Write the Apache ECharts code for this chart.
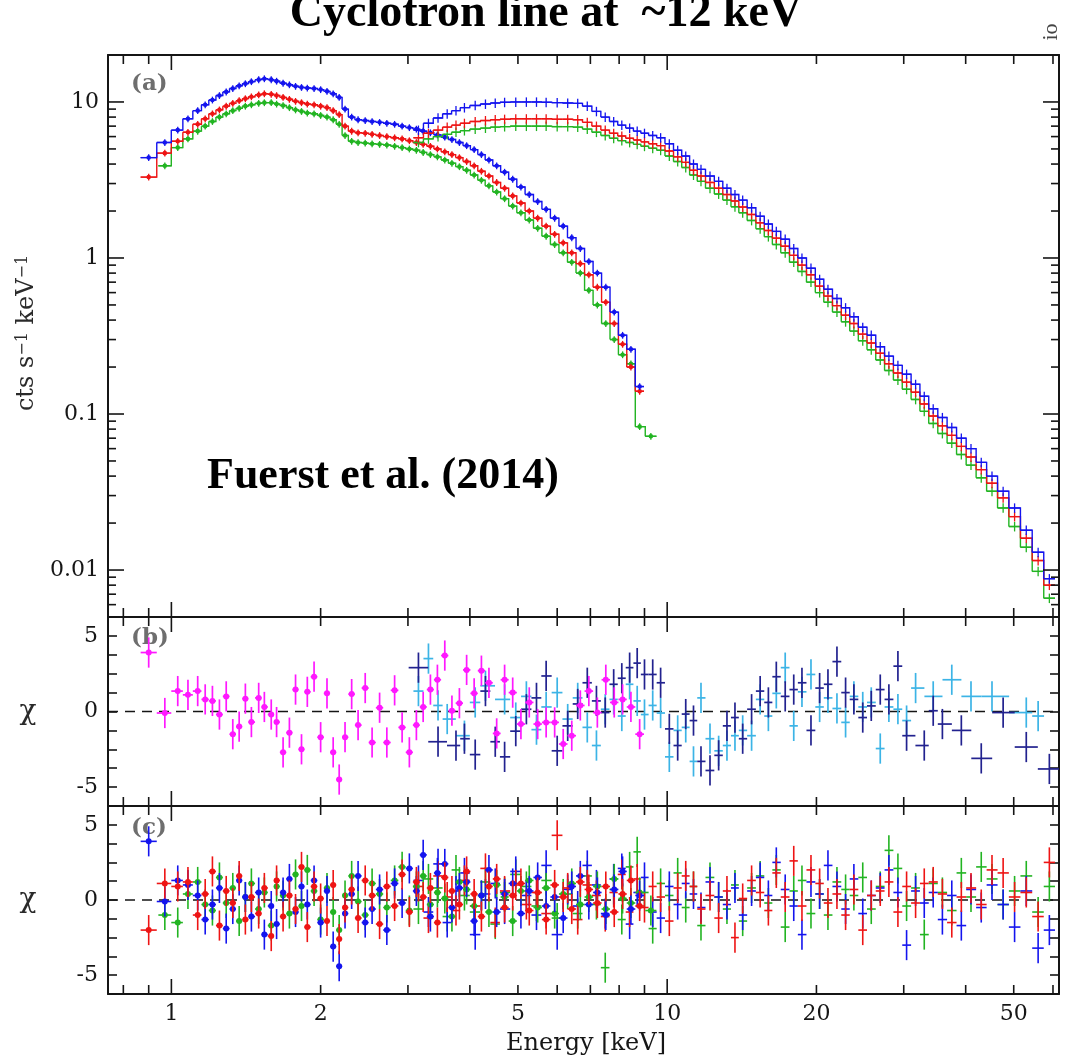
<!DOCTYPE html>
<html><head><meta charset="utf-8">
<script src="https://cdn.jsdelivr.net/npm/echarts@6/dist/echarts.min.js"></script>
<style>html,body{margin:0;padding:0;background:#fff}#c{width:1067px;height:1063px}</style>
</head><body><div id="c"></div>
<script>
// ================= DATA =================
// Low-energy instrument (panel a, left spectrum): bin centre energies in keV
const xisEnergy = [0.90,0.97,1.03,1.08,1.13,1.17,1.21,1.25,1.29,1.33,1.37,1.41,1.45,1.50,1.54,1.59,1.63,1.68,1.73,1.78,1.83,1.88,1.94,2.00,2.06,2.12,2.18,2.24,2.31,2.38,2.46,2.54,2.63,2.72,2.82,2.92,3.02,3.12,3.22,3.33,3.44,3.56,3.68,3.81,3.94,4.08,4.22,4.37,4.53,4.70,4.88,5.07,5.27,5.48,5.70,5.93,6.17,6.42,6.68,6.95,7.23,7.52,7.82,8.13,8.45,8.80,9.27];
const xisBlue = [4.4,5.5,6.6,7.8,8.8,9.6,10.3,11.0,11.6,12.2,12.7,13.1,13.5,13.9,14.1,13.9,13.6,13.2,12.9,12.6,12.4,12.3,12.2,12.0,11.7,11.3,10.7,9.0,8.0,7.7,7.6,7.5,7.4,7.3,7.2,7.0,6.85,6.7,6.5,6.35,6.15,5.95,5.75,5.5,5.25,4.95,4.6,4.25,3.9,3.55,3.2,2.85,2.55,2.3,2.05,1.8,1.6,1.35,1.15,0.95,0.8,0.65,0.45,0.32,0.26,0.15,null];
const xisRed = [3.3,4.7,5.6,6.4,7.2,7.8,8.4,8.9,9.4,9.8,10.2,10.5,10.8,11.1,11.3,11.2,11.0,10.7,10.4,10.1,9.9,9.7,9.6,9.4,9.2,8.8,8.3,7.0,6.5,6.35,6.3,6.2,6.1,6.0,5.9,5.8,5.65,5.5,5.35,5.2,5.0,4.8,4.6,4.4,4.15,3.9,3.6,3.35,3.05,2.8,2.5,2.25,2.0,1.8,1.6,1.42,1.25,1.08,0.92,0.78,0.65,0.52,0.38,0.28,0.2,0.14,null];
const xisGreen = [null,3.9,5.1,5.8,6.5,7.0,7.5,8.0,8.4,8.8,9.1,9.4,9.6,9.8,9.9,9.9,9.7,9.5,9.2,8.9,8.7,8.5,8.4,8.2,8.0,7.7,7.2,6.1,5.6,5.5,5.45,5.4,5.35,5.3,5.2,5.1,5.0,4.9,4.75,4.6,4.45,4.25,4.05,3.85,3.65,3.4,3.15,2.9,2.65,2.4,2.15,1.95,1.75,1.55,1.38,1.22,1.08,0.94,0.8,0.62,0.5,0.38,0.3,0.24,0.21,0.083,0.072];

// High-energy instrument (panel a, right spectrum)
const nuEnergy = [3.15,3.3,3.45,3.6,3.75,3.9,4.1,4.3,4.5,4.7,4.95,5.2,5.45,5.7,6.0,6.3,6.6,6.9,7.2,7.5,7.8,8.1,8.4,8.7,9.0,9.35,9.7,10.1,10.5,10.9,11.3,11.7,12.2,12.7,13.2,13.7,14.2,14.8,15.4,16.0,16.6,17.3,18.0,18.7,19.5,20.3,21.1,22.0,22.9,23.8,24.8,25.8,26.9,28.0,29.2,30.4,31.7,33.0,34.4,35.9,37.5,39.2,41.0,43.0,45.2,47.6,50.2,53.0,56.0,59.0];
const nuBlue = [6.6,7.3,7.9,8.4,8.8,9.2,9.5,9.7,9.85,9.95,10.0,10.0,10.0,9.95,9.9,9.85,9.8,9.4,8.7,8.0,7.5,7.1,6.8,6.5,6.3,6.1,5.9,5.4,4.9,4.5,4.0,3.7,3.35,3.1,2.8,2.55,2.35,2.1,1.85,1.65,1.48,1.32,1.15,1.0,0.86,0.73,0.63,0.55,0.48,0.42,0.36,0.32,0.27,0.235,0.205,0.18,0.155,0.13,0.108,0.095,0.082,0.07,0.06,0.049,0.04,0.032,0.025,0.018,0.013,0.0088];
const nuRed = [5.9,6.3,6.6,6.9,7.1,7.3,7.5,7.6,7.7,7.75,7.8,7.8,7.8,7.8,7.75,7.75,7.7,7.4,7.0,6.6,6.3,6.05,5.85,5.7,5.55,5.4,5.25,4.85,4.45,4.1,3.65,3.35,3.05,2.8,2.55,2.32,2.12,1.9,1.68,1.5,1.34,1.19,1.04,0.9,0.78,0.66,0.57,0.495,0.43,0.38,0.325,0.285,0.245,0.21,0.183,0.16,0.138,0.116,0.097,0.084,0.073,0.062,0.053,0.044,0.036,0.029,0.022,0.016,0.0115,0.008];
const nuGreen = [5.5,5.8,6.0,6.2,6.4,6.55,6.7,6.8,6.9,6.95,7.0,7.0,7.0,7.0,6.95,6.95,6.9,6.7,6.4,6.1,5.85,5.65,5.5,5.35,5.2,5.05,4.9,4.5,4.15,3.8,3.4,3.1,2.8,2.57,2.35,2.13,1.95,1.74,1.54,1.37,1.22,1.08,0.94,0.82,0.7,0.6,0.52,0.45,0.39,0.34,0.295,0.258,0.222,0.19,0.165,0.144,0.124,0.104,0.087,0.075,0.065,0.055,0.047,0.039,0.032,0.025,0.019,0.014,0.0098,0.0066];

// Panel (b) residuals (chi)
const resBMagenta = [3.9,-0.1,1.35,1.1,1.35,0.8,0.7,-0.2,1.0,-1.5, -1.0,0.85,-0.7,0.9,0.3,-0.2,-0.7,-2.7,-1.4,1.45, -2.5,1.3,2.3,-1.7,1.2,-2.7,-4.5,-1.7,1.15,-0.9, 1.55,-2.05,0.25,-2.05,1.4,-1.05,-2.7,-0.9,0.3,1.45, 2.1,3.7,0.05,0.55,2.75,1.2,2.7,1.9,-1.45,2.1, 1.25,-0.83,0.6,-0.83,-0.72,-0.72,-2.15,-1.6,0.4,1.35, -0.07,2.1,0.6,0.8,0.3,-1.5,null];
const resBNavy = [2.9,null,-2.0,null,-2.25,-1.8,-2.85,1.35,-2.0,-3.0, -1.3,0.15,0.9,2.35,-2.6,-0.95,0.5,1.9,0.7,-0.07, 1.8,2.2,2.9,3.2,2.45,2.45,1.9,-1.15,-2.25,-0.17, -0.6,-3.3,-3.9,-2.9,-0.95,-0.4,-1.8,0.15,1.35,0.6, 2.3,1.0,1.45,1.9,-1.25,1.55,1.8,3.3,1.25,0.8, -0.4,0.37,1.45,0.8,3.0,-1.6,null,-2.25,0.05,-0.83, null,-1.25,null,-3.1,null,-0.07,null,-2.35,null,-3.8];
const resBCyan = [1.35,3.5,0.4,-0.5,null,-1.6,0.6,1.7,null,0.8, -0.4,1.0,-1.2,0.3,1.25,-0.5,0.9,-1.05,-2.25,0.15, 0.8,-0.3,1.8,0.7,-0.2,0.4,-0.1,-3.0,-1.25,-1.05, -3.3,0.9,-1.8,-2.6,-2.25,-1.6,-1.25,-1.6,0.8,-0.3, 1.2,2.9,-0.95,1.3,2.45,0.3,0.9,0.2,-0.72,1.0, 0.3,0.6,-2.45,0.3,0.15,-0.6,1.55,null,1.0,null, 2.1,null,1.0,null,1.0,null,null,-0.07,-0.3,null];

// Panel (c) residuals (chi)
const resCXisBlue = [3.9,-0.1,1.3,1.0,0.3,-1.3,-0.3,0.8,-1.9,-0.6, 1.3,0.2,-1.1,0.5,-2.3,-0.4,-1.6,0.5,1.4,-0.8, 0.9,-0.3,1.3,-1.5,0.6,-3.1,-4.4,-0.9,0.4,1.6, -1.5,-0.6,0.7,-2.0,1.1,-0.2,2.1,0.6,3.0,-1.1, 1.8,2.4,-0.5,0.8,1.2,-1.4,0.3,2.0,-0.8,0.4, 1.1,-0.9,0.6,1.5,-0.4,0.2,-1.2,0.9,1.6,-0.3, 0.5,-1.0,0.7,1.9,-0.6,0.3,null];
const resCXisRed = [-2.0,1.1,0.9,1.2,-1.0,0.4,1.9,-1.7,0.6,-0.2, 1.6,-1.3,0.2,-0.9,0.8,-2.4,1.3,-1.1,0.3,-0.6, 2.2,-1.8,0.9,0.1,-1.4,1.0,-2.6,-0.5,0.7,-1.2, 1.3,0.3,-1.6,0.9,-0.4,1.7,-0.8,1.2,0.2,0.8, -1.5,1.5,0.6,-0.3,1.9,0.4,-1.1,0.9,1.4,-0.5, 0.3,1.1,-0.7,0.5,-1.3,1.0,0.2,-0.6,1.2,0.7, -0.2,0.9,-0.8,0.4,1.3,-0.4,null];
const resCXisGreen = [null,-1.0,-1.5,0.4,1.2,-0.3,-0.7,1.5,-0.2,0.8, -1.4,0.2,1.1,-0.6,0.5,-1.7,0.9,0.3,-0.9,1.7, -0.4,2.0,0.6,-1.3,0.8,-0.8,-2.0,0.3,1.6,-0.1, -1.0,1.1,0.4,-0.5,1.3,2.2,-0.7,0.9,1.6,-0.3, 0.5,0.1,-1.1,1.2,0.7,-0.4,0.3,-0.8,1.0,0.2, -1.4,0.6,1.3,-0.5,0.8,-0.9,0.4,1.1,-0.3,0.2, 0.9,-0.6,1.4,0.1,-0.2,0.5,-0.7];
const resCNuBlue = [1.3,-0.8,2.4,-1.5,0.6,1.8,-2.3,0.4,1.1,-0.6, 1.9,0.3,-1.0,2.3,-2.3,0.7,-0.4,2.3,1.0,-0.9, 1.4,2.1,-1.6,0.5,1.5,-0.8,-1.2,0.9,-0.3,1.1, 0.4,-0.5,1.2,0.2,-0.3,0.8,-1.0,0.6,1.5,0.3, 2.5,0.7,-0.4,-2.3,1.2,0.4,2.3,0.9,-0.6,1.4, -0.9,0.3,0.8,2.0,0.5,-3.0,0.6,-0.2,0.5,-1.3, 0.3,-1.7,0.7,-0.5,1.0,-0.3,-1.8,0.6,-3.2,-2.0];
const resCNuRed = [0.9,-1.2,1.6,0.2,-0.7,1.3,-0.4,2.1,-1.5,0.6, 1.0,-0.3,0.5,-0.9,4.3,0.8,-1.3,1.0,0.3,-1.1, 0.5,1.7,-0.8,1.4,-0.5,0.9,0.2,-1.4,0.8,1.6, 0.9,-0.6,0.3,-1.2,0.6,-2.5,0.1,1.3,0.5,-0.7, 1.8,0.2,2.6,-0.4,2.0,1.1,-0.2,0.4,-1.0,0.7, -2.0,0.3,0.6,1.2,-0.8,0.9,-0.2,1.1,1.2,0.4, -1.5,0.2,0.8,-0.3,2.0,1.8,0.2,0.5,-1.1,2.5];
const resCNuGreen = [-0.6,1.4,0.8,-1.1,2.0,0.3,-0.8,1.2,-1.6,0.5, 1.7,0.9,-0.4,1.3,-1.2,0.4,-0.9,1.6,-0.3,-4.5, 0.7,-1.3,2.2,3.2,0.5,-1.9,1.1,0.3,1.8,-0.5, 0.9,-1.7,1.5,0.2,-0.6,1.0,-1.4,0.8,1.6,-0.2, 2.0,-1.8,0.6,1.3,-0.9,0.4,-1.0,1.2,0.7,0.3, 1.5,-0.6,0.9,3.3,2.1,-0.4,0.8,-2.3,1.1,0.5, -0.7,1.8,0.2,2.2,1.4,-0.3,0.6,1.6,-0.8,0.9];

// Axis ticks and labels
const xLabelValues = [1, 2, 5, 10, 20, 50];
const xMajorTicks = [1, 10];
const xMinorTicks = [0.8, 0.9, 2, 3, 4, 5, 6, 7, 8, 9, 20, 30, 40, 50, 60];
const yLabelValues = [0.01, 0.1, 1, 10];
const yMajorTicks = [0.01, 0.1, 1, 10];
const yMinorTicks = [0.006,0.007,0.008,0.009, 0.02,0.03,0.04,0.05,0.06,0.07,0.08,0.09, 0.2,0.3,0.4,0.5,0.6,0.7,0.8,0.9, 2,3,4,5,6,7,8,9];
const chiLabelValues = [-5, 0, 5];

// ================= BUILD =================
const X_MIN = 0.745, X_MAX = 61.7, Y_MIN = 0.005, Y_MAX = 20, CHI_MIN = -6.25, CHI_MAX = 6.25;
const C_BLUE = '#1414ee', C_RED = '#ee1414', C_GREEN = '#22b422', C_MAG = '#ff18ff', C_NAVY = '#22228f', C_CYAN = '#3cb4e6';
const INK = '#151515', LABEL = '#161616';
const TICK_FONT = '22px "DejaVu Serif"';

function bins(energies, values) {
  const pts = [];
  energies.forEach((e, i) => { const v = values[i]; if (v !== null && v !== undefined) pts.push([e, v]); });
  const n = pts.length, out = [];
  for (let k = 0; k < n; k++) {
    const e = pts[k][0];
    const lo = k > 0 ? Math.sqrt(pts[k-1][0] * e) : e * e / Math.sqrt(e * pts[1][0]);
    const hi = k < n - 1 ? Math.sqrt(e * pts[k+1][0]) : e * e / Math.sqrt(pts[k-1][0] * e);
    out.push({ e, v: pts[k][1], lo, hi, next: k < n - 1 ? pts[k+1][1] : null });
  }
  return out;
}

function stepSeries(g, b, color) {
  return {
    type: 'custom', xAxisIndex: 2*g, yAxisIndex: 2*g, silent: true, clip: true,
    data: b.map(p => [p.lo, p.v, p.hi, p.next === null ? p.v : p.next]),
    renderItem(params, api) {
      const a = api.coord([api.value(0), api.value(1)]);
      const c = api.coord([api.value(2), api.value(1)]);
      const d = api.coord([api.value(2), api.value(3)]);
      return { type: 'polyline', shape: { points: [a, c, d] }, style: { stroke: color, lineWidth: 1.4, fill: null } };
    }
  };
}

function crossSeries(g, b, color, errFn, dot, lw) {
  return {
    type: 'custom', xAxisIndex: 2*g, yAxisIndex: 2*g, silent: true, clip: true,
    data: b.map(p => { const e = errFn(p.v); return [p.e, p.v, p.lo, p.hi, e[0], e[1]]; }),
    renderItem(params, api) {
      const c = api.coord([api.value(0), api.value(1)]);
      const l = api.coord([api.value(2), api.value(1)]);
      const r = api.coord([api.value(3), api.value(1)]);
      const t = api.coord([api.value(0), api.value(5)]);
      const bt = api.coord([api.value(0), api.value(4)]);
      const ch = [
        { type: 'line', shape: { x1: l[0], y1: c[1], x2: r[0], y2: c[1] }, style: { stroke: color, lineWidth: lw } },
        { type: 'line', shape: { x1: c[0], y1: t[1], x2: c[0], y2: bt[1] }, style: { stroke: color, lineWidth: lw } }
      ];
      if (dot) ch.push({ type: 'circle', shape: { cx: c[0], cy: c[1], r: dot }, style: { fill: color } });
      return { type: 'group', children: ch };
    }
  };
}
const relErrXis = v => [v * 0.95, v * 1.05];
const relErrNu = v => [v * 0.93, v * 1.07];
const chiErr = v => [v - 1, v + 1];

function xTickSeries(g, yRef) {
  const items = xMajorTicks.map(v => [v, yRef, 1]).concat(xMinorTicks.map(v => [v, yRef, 0]));
  return {
    type: 'custom', xAxisIndex: 2*g, yAxisIndex: 2*g, silent: true, clip: false, z: 10,
    data: items,
    renderItem(params, api) {
      const cs = params.coordSys;
      const x = api.coord([api.value(0), yRef])[0];
      const len = api.value(2) ? 15 : 9;
      const bot = cs.y + cs.height;
      return { type: 'group', children: [
        { type: 'line', shape: { x1: x, y1: bot, x2: x, y2: bot - len }, style: { stroke: INK, lineWidth: 1.6 } },
        { type: 'line', shape: { x1: x, y1: cs.y, x2: x, y2: cs.y + len }, style: { stroke: INK, lineWidth: 1.6 } }
      ] };
    }
  };
}

function yLogTickSeries() {
  const items = yMajorTicks.map(v => [1, v, 1]).concat(yMinorTicks.map(v => [1, v, 0]));
  return {
    type: 'custom', xAxisIndex: 0, yAxisIndex: 0, silent: true, clip: false, z: 10,
    data: items,
    renderItem(params, api) {
      const cs = params.coordSys;
      const y = api.coord([1, api.value(1)])[1];
      const len = api.value(2) ? 16 : 8;
      const right = cs.x + cs.width;
      return { type: 'group', children: [
        { type: 'line', shape: { x1: cs.x, y1: y, x2: cs.x + len, y2: y }, style: { stroke: INK, lineWidth: 1.6 } },
        { type: 'line', shape: { x1: right, y1: y, x2: right - len, y2: y }, style: { stroke: INK, lineWidth: 1.6 } }
      ] };
    }
  };
}

const xLabelSeries = {
  type: 'custom', xAxisIndex: 4, yAxisIndex: 4, silent: true, clip: false, z: 10,
  data: xLabelValues.map(v => [v, 0]),
  renderItem(params, api) {
    const cs = params.coordSys;
    const p = api.coord([api.value(0), 0]);
    return { type: 'text', x: p[0], y: cs.y + cs.height + 9,
      style: { text: String(api.value(0)), font: TICK_FONT, fill: LABEL, align: 'center', textAlign: 'center', verticalAlign: 'top', textVerticalAlign: 'top' } };
  }
};

function zeroLine(g) {
  return { type: 'line', xAxisIndex: 2*g, yAxisIndex: 2*g, silent: true, symbol: 'none', z: 1,
    data: [[X_MIN, 0], [X_MAX, 0]], lineStyle: { color: INK, width: 1.5, type: [10, 7] } };
}

const grids = [
  { left: 108, width: 951, top: 55, height: 562, outerBoundsMode: 'none' },
  { left: 108, width: 951, top: 617, height: 189, outerBoundsMode: 'none' },
  { left: 108, width: 951, top: 806, height: 188, outerBoundsMode: 'none' }
];
const axLine = { show: true, onZero: false, lineStyle: { color: INK, width: 2 } };
const xAxes = [], yAxes = [];
for (let g = 0; g < 3; g++) {
  ['bottom', 'top'].forEach(pos => xAxes.push({ gridIndex: g, type: 'log', logBase: 10, min: X_MIN, max: X_MAX, position: pos,
    axisLine: axLine, axisTick: { show: false }, axisLabel: { show: false }, splitLine: { show: false } }));
  if (g === 0) {
    yAxes.push({ gridIndex: 0, type: 'log', logBase: 10, min: Y_MIN, max: Y_MAX, position: 'left', axisLine: axLine,
      axisTick: { show: false }, splitLine: { show: false },
      axisLabel: { show: true, fontFamily: 'DejaVu Serif', fontSize: 22, color: LABEL, margin: 9,
        formatter: v => { for (const L of yLabelValues) { if (Math.abs(Math.log10(v) - Math.log10(L)) < 1e-6) return String(L); } return ''; } } });
    yAxes.push({ gridIndex: 0, type: 'log', logBase: 10, min: Y_MIN, max: Y_MAX, position: 'right', axisLine: axLine,
      axisTick: { show: false }, axisLabel: { show: false }, splitLine: { show: false } });
  } else {
    ['left', 'right'].forEach(pos => yAxes.push({ gridIndex: g, type: 'value', min: CHI_MIN, max: CHI_MAX, interval: 1.25, position: pos,
      axisLine: axLine, splitLine: { show: false },
      axisTick: { show: true, inside: true, length: 9, lineStyle: { color: INK, width: 1.6 } },
      axisLabel: { show: pos === 'left', fontFamily: 'DejaVu Serif', fontSize: 22, color: LABEL, margin: 10,
        formatter: v => (chiLabelValues.some(L => Math.abs(L - v) < 1e-6) ? String(Math.round(v)) : '') } }));
  }
}

const bXisB = bins(xisEnergy, xisBlue), bXisR = bins(xisEnergy, xisRed), bXisG = bins(xisEnergy, xisGreen);
const bNuB = bins(nuEnergy, nuBlue), bNuR = bins(nuEnergy, nuRed), bNuG = bins(nuEnergy, nuGreen);

const series = [
  // panel a
  stepSeries(0, bXisG, C_GREEN), crossSeries(0, bXisG, C_GREEN, relErrXis, 2.3, 1.3),
  stepSeries(0, bXisR, C_RED), crossSeries(0, bXisR, C_RED, relErrXis, 2.3, 1.3),
  stepSeries(0, bXisB, C_BLUE), crossSeries(0, bXisB, C_BLUE, relErrXis, 2.3, 1.3),
  stepSeries(0, bNuG, C_GREEN), crossSeries(0, bNuG, C_GREEN, relErrNu, 0, 1.3),
  stepSeries(0, bNuR, C_RED), crossSeries(0, bNuR, C_RED, relErrNu, 0, 1.3),
  stepSeries(0, bNuB, C_BLUE), crossSeries(0, bNuB, C_BLUE, relErrNu, 0, 1.3),
  // panel b
  zeroLine(1),
  crossSeries(1, bins(nuEnergy, resBCyan), C_CYAN, chiErr, 0, 1.7),
  crossSeries(1, bins(nuEnergy, resBNavy), C_NAVY, chiErr, 0, 1.7),
  crossSeries(1, bins(xisEnergy, resBMagenta), C_MAG, chiErr, 3, 1.7),
  // panel c
  zeroLine(2),
  crossSeries(2, bins(nuEnergy, resCNuGreen), C_GREEN, chiErr, 0, 1.6),
  crossSeries(2, bins(nuEnergy, resCNuBlue), C_BLUE, chiErr, 0, 1.6),
  crossSeries(2, bins(nuEnergy, resCNuRed), C_RED, chiErr, 0, 1.6),
  crossSeries(2, bins(xisEnergy, resCXisGreen), C_GREEN, chiErr, 3, 1.6),
  crossSeries(2, bins(xisEnergy, resCXisBlue), C_BLUE, chiErr, 3, 1.6),
  crossSeries(2, bins(xisEnergy, resCXisRed), C_RED, chiErr, 3, 1.6),
  // ticks and labels
  xTickSeries(0, 1), xTickSeries(1, 0), xTickSeries(2, 0), yLogTickSeries(), xLabelSeries
];

const panelTag = (t, y) => ({ type: 'text', x: 131, y, style: { text: t, font: 'bold 23px "DejaVu Serif"', fill: '#6e6e6e', align: 'left', verticalAlign: 'middle', textAlign: 'left', textVerticalAlign: 'middle' } });
const graphics = [
  { type: 'text', x: 546, y: 14, style: { text: 'Cyclotron line at  ~12 keV', font: 'bold 46px "Liberation Serif"', fill: '#000', align: 'center', verticalAlign: 'middle', textAlign: 'center', textVerticalAlign: 'middle' } },
  { type: 'text', x: 1051, y: 32, rotation: Math.PI / 2, style: { text: 'io', font: '22px "Liberation Serif"', fill: '#444', align: 'center', verticalAlign: 'middle', textAlign: 'center', textVerticalAlign: 'middle' } },
  { type: 'text', x: 207, y: 477, style: { text: 'Fuerst et al. (2014)', font: 'bold 44px "Liberation Serif"', fill: '#000', align: 'left', verticalAlign: 'middle', textAlign: 'left', textVerticalAlign: 'middle' } },
  panelTag('(a)', 84), panelTag('(b)', 638), panelTag('(c)', 828),
  { type: 'text', x: 27, y: 333, rotation: Math.PI / 2, style: {
      text: '{n|cts s}{s|\u22121}{n| keV}{s|\u22121}',
      rich: { n: { font: '24px "DejaVu Serif"', fill: '#2a2a2a' }, s: { font: '16px "DejaVu Serif"', fill: '#2a2a2a', verticalAlign: 'top' } },
      align: 'center', verticalAlign: 'middle', textAlign: 'center', textVerticalAlign: 'middle' } },
  { type: 'text', x: 28, y: 712, style: { text: '\u03c7', font: '28px "DejaVu Serif"', fill: '#2a2a2a', align: 'center', verticalAlign: 'middle', textAlign: 'center', textVerticalAlign: 'middle' } },
  { type: 'text', x: 28, y: 900, style: { text: '\u03c7', font: '28px "DejaVu Serif"', fill: '#2a2a2a', align: 'center', verticalAlign: 'middle', textAlign: 'center', textVerticalAlign: 'middle' } },
  { type: 'text', x: 586, y: 1044, style: { text: 'Energy [keV]', font: '24px "DejaVu Serif"', fill: LABEL, align: 'center', verticalAlign: 'middle', textAlign: 'center', textVerticalAlign: 'middle' } }
];

const chart = echarts.init(document.getElementById('c'), null, { renderer: 'canvas', width: 1067, height: 1063 });
chart.setOption({
  backgroundColor: '#fff', animation: false,
  grid: grids, xAxis: xAxes, yAxis: yAxes, series, graphic: graphics
});
</script></body></html>
